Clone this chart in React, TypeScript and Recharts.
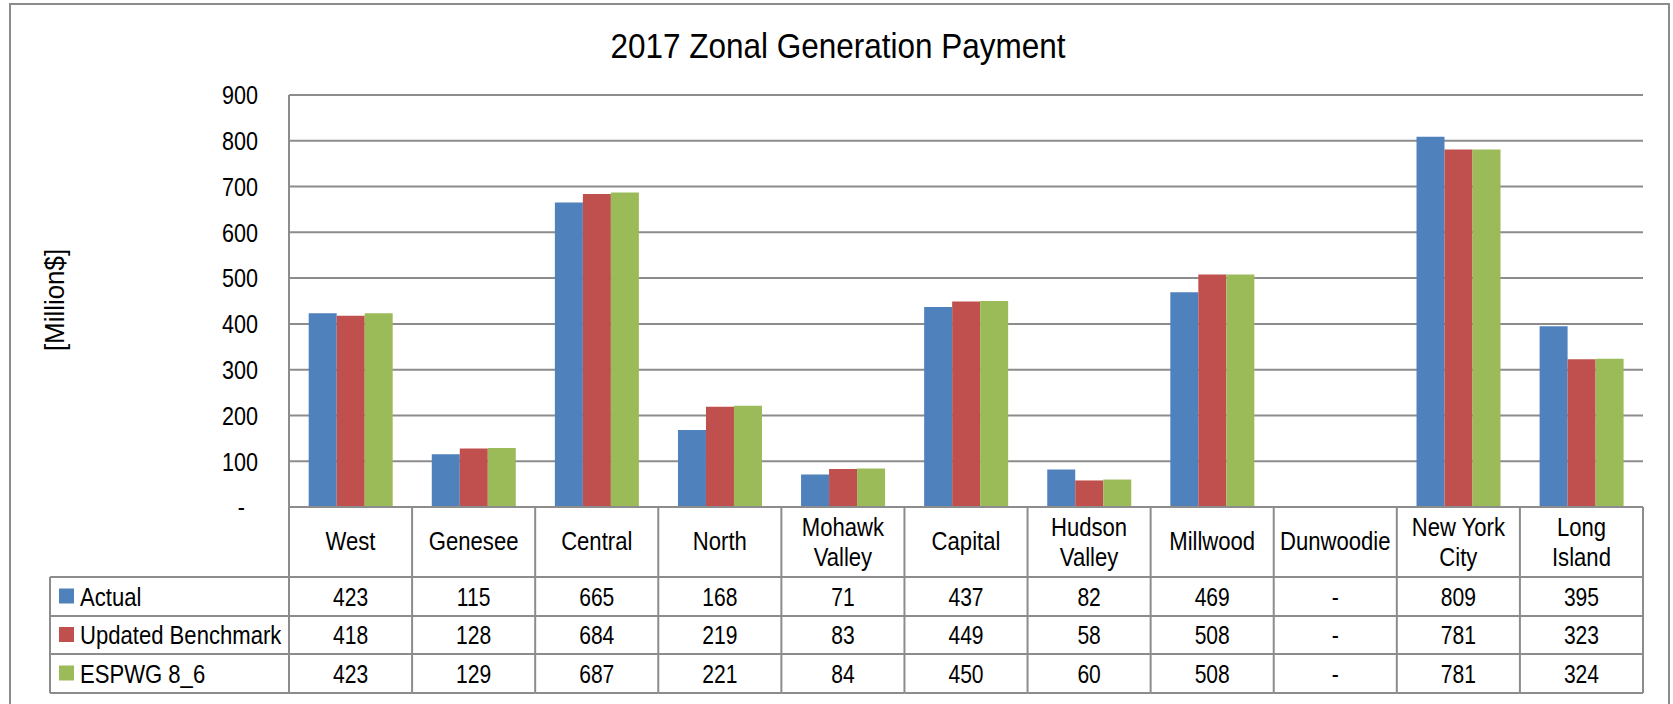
import React from 'react'
import { BarChart, Bar, XAxis, YAxis, CartesianGrid } from 'recharts'

const zones = ['West', 'Genesee', 'Central', 'North', 'Mohawk Valley', 'Capital', 'Hudson Valley', 'Millwood', 'Dunwoodie', 'New York City', 'Long Island']
const zoneLabels = [['West'], ['Genesee'], ['Central'], ['North'], ['Mohawk', 'Valley'], ['Capital'], ['Hudson', 'Valley'], ['Millwood'], ['Dunwoodie'], ['New York', 'City'], ['Long', 'Island']]
const actual = [423, 115, 665, 168, 71, 437, 82, 469, 0, 809, 395]
const updatedBenchmark = [418, 128, 684, 219, 83, 449, 58, 508, 0, 781, 323]
const espwg86 = [423, 129, 687, 221, 84, 450, 60, 508, 0, 781, 324]
const yTicks = [0, 100, 200, 300, 400, 500, 600, 700, 800, 900]

const series = [
  { key: 'actual', name: 'Actual', color: '#4F81BD', values: actual },
  { key: 'updated', name: 'Updated Benchmark', color: '#C0504D', values: updatedBenchmark },
  { key: 'espwg', name: 'ESPWG 8_6', color: '#9BBB59', values: espwg86 }
]

const data = zones.map((zone, i) => ({
  zone,
  actual: actual[i],
  updated: updatedBenchmark[i],
  espwg: espwg86[i]
}))

// layout
const W = 1673
const H = 704
const PLOT_L = 289
const PLOT_R = 1643
const PLOT_T = 95
const PLOT_B = 507
const COL_W = (PLOT_R - PLOT_L) / zones.length
const ROW_Y = [577, 616, 654, 693]
const LEGEND_L = 50
const LINE = '#8c8c8c'
const FONT = "'Liberation Sans', Arial, sans-serif"

const fmt = (v: number) => (v === 0 ? '-' : String(v))

// Arial Narrow look: Liberation Sans squeezed horizontally
const NText = ({ x, y, size = 26, anchor = 'start', sx = 0.83, children }: any) => (
  <text
    transform={`translate(${x},${y}) scale(${sx},1)`}
    textAnchor={anchor}
    dy='0.36em'
    fontSize={size}
    fontFamily={FONT}
    fill='#000'
  >
    {children}
  </text>
)

const YTick = (props: any) => {
  const { x, y, payload } = props
  const isZero = payload.value === 0
  return (
    <NText x={isZero ? x - 13 : x} y={y} anchor='end'>
      {fmt(payload.value)}
    </NText>
  )
}

const TableColumn = (props: any) => {
  const { x, index } = props
  const left = x - COL_W / 2
  const right = x + COL_W / 2
  const lines = zoneLabels[index]
  const labelY = lines.length === 1 ? [541] : [527, 557]
  return (
    <g>
      {index === 0 && (
        <g>
          <line x1={LEGEND_L} y1={ROW_Y[0]} x2={LEGEND_L} y2={ROW_Y[3]} stroke={LINE} strokeWidth={2} />
          {ROW_Y.map((ry) => (
            <line key={ry} x1={LEGEND_L} y1={ry} x2={left} y2={ry} stroke={LINE} strokeWidth={2} />
          ))}
          {series.map((s, si) => {
            const cy = (ROW_Y[si] + ROW_Y[si + 1]) / 2
            return (
              <g key={s.key}>
                <rect x={59} y={cy - 8} width={15} height={15} fill={s.color} />
                <NText x={80} y={cy} sx={0.85}>{s.name}</NText>
              </g>
            )
          })}
        </g>
      )}
      <line x1={left} y1={PLOT_B} x2={left} y2={ROW_Y[3]} stroke={LINE} strokeWidth={2} />
      {index === zones.length - 1 && (
        <line x1={right} y1={PLOT_B} x2={right} y2={ROW_Y[3]} stroke={LINE} strokeWidth={2} />
      )}
      {ROW_Y.map((ry) => (
        <line key={ry} x1={left} y1={ry} x2={right} y2={ry} stroke={LINE} strokeWidth={2} />
      ))}
      {lines.map((t, li) => (
        <NText key={t} x={x} y={labelY[li]} anchor='middle' sx={0.85}>{t}</NText>
      ))}
      {series.map((s, si) => (
        <NText key={s.key} x={x} y={(ROW_Y[si] + ROW_Y[si + 1]) / 2} anchor='middle' sx={0.81}>
          {fmt(s.values[index])}
        </NText>
      ))}
    </g>
  )
}

export default function App() {
  return (
    <div style={{ position: 'absolute', left: 0, top: 0, width: W, height: H, background: '#fff', overflow: 'hidden' }}>
      <svg width={W} height={H} style={{ position: 'absolute', left: 0, top: 0 }}>
        <rect x={10} y={4} width={1659} height={720} fill='#fff' stroke={LINE} strokeWidth={2} />
        <text
          transform='translate(838,58) scale(0.875,1)'
          textAnchor='middle'
          fontSize={36}
          fontFamily={FONT}
          fill='#000'
        >
          2017 Zonal Generation Payment
        </text>
        <text
          transform='translate(64,300) rotate(-90) scale(0.96,1)'
          textAnchor='middle'
          fontSize={27}
          fontFamily={FONT}
          fill='#000'
        >
          [Million$]
        </text>
      </svg>
      <div style={{ position: 'absolute', left: 0, top: 0 }}>
        <BarChart
          width={W}
          height={H}
          data={data}
          margin={{ top: PLOT_T, right: W - PLOT_R, bottom: 7, left: 10 }}
          barGap={0}
          barCategoryGap='16%'
        >
          <CartesianGrid vertical={false} stroke={LINE} strokeWidth={2} />
          <XAxis
            dataKey='zone'
            interval={0}
            height={H - PLOT_B - 7}
            axisLine={{ stroke: LINE, strokeWidth: 2 }}
            tickLine={false}
            tick={<TableColumn />}
          />
          <YAxis
            width={PLOT_L - 10}
            domain={[0, 900]}
            ticks={yTicks}
            interval={0}
            axisLine={{ stroke: LINE, strokeWidth: 2 }}
            tickLine={false}
            tickMargin={25}
            tick={<YTick />}
          />
          {series.map((s) => (
            <Bar key={s.key} dataKey={s.key} name={s.name} fill={s.color} isAnimationActive={false} />
          ))}
        </BarChart>
      </div>
    </div>
  )
}
